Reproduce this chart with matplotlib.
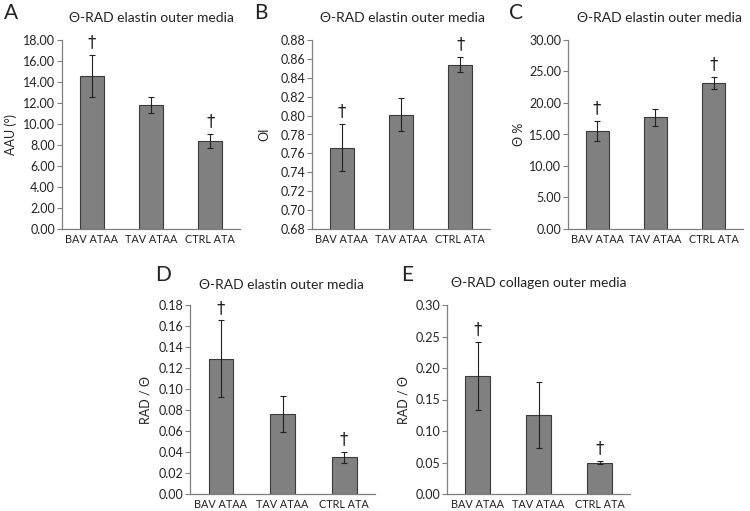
import matplotlib
matplotlib.use("Agg")
import matplotlib.pyplot as plt
import numpy as np

plt.rcParams['font.family'] = ['Lato', 'DejaVu Sans']

categories = ["BAV ATAA", "TAV ATAA", "CTRL ATA"]

a_vals = [14.6, 11.8, 8.4]
a_err = [2.0, 0.75, 0.65]
a_sig = [True, False, True]

b_vals = [0.766, 0.801, 0.854]
b_err = [0.025, 0.0175, 0.008]
b_sig = [True, False, True]

c_vals = [15.6, 17.7, 23.2]
c_err = [1.6, 1.3, 1.0]
c_sig = [True, False, True]

d_vals = [0.129, 0.076, 0.035]
d_err = [0.0365, 0.017, 0.005]
d_sig = [True, False, True]

e_vals = [0.188, 0.126, 0.050]
e_err = [0.054, 0.0525, 0.0025]
e_sig = [True, False, True]

W, H = 750, 511
fig = plt.figure(figsize=(W / 100, H / 100), dpi=100)

def rect(l, r, t, b):
    return [l / W, 1 - b / H, (r - l) / W, (b - t) / H]

panels = [
    dict(r=rect(62, 240, 40, 229), vals=a_vals, err=a_err, sig=a_sig, ylim=(0, 18), step=2, fmt="{:.2f}",
         ylabel="AAU (°)", title="Θ-RAD elastin outer media", letter="A", lx=4, ly=3, tx=151, ty=18, ylx=11),
    dict(r=rect(312, 490, 40, 229), vals=b_vals, err=b_err, sig=b_sig, ylim=(0.68, 0.88), step=0.02, fmt="{:.2f}",
         ylabel="OI", title="Θ-RAD elastin outer media", letter="B", lx=254, ly=3, tx=402, ty=18, ylx=264),
    dict(r=rect(568, 743, 40, 229), vals=c_vals, err=c_err, sig=c_sig, ylim=(0, 30), step=5, fmt="{:.2f}",
         ylabel="Θ %", title="Θ-RAD elastin outer media", letter="C", lx=509, ly=3, tx=659, ty=18, ylx=519),
    dict(r=rect(190, 375, 305, 494), vals=d_vals, err=d_err, sig=d_sig, ylim=(0, 0.18), step=0.02, fmt="{:.2f}",
         ylabel="RAD / Θ", title="Θ-RAD elastin outer media", letter="D", lx=155, ly=265, tx=281, ty=285, ylx=145),
    dict(r=rect(447, 630, 305, 494), vals=e_vals, err=e_err, sig=e_sig, ylim=(0, 0.30), step=0.05, fmt="{:.2f}",
         ylabel="RAD / Θ", title="Θ-RAD collagen outer media", letter="E", lx=401, ly=265, tx=539, ty=283, ylx=403),
]

axis_col = "#7f7f7f"
txt_col = "#222222"
for p in panels:
    ax = fig.add_axes(p["r"])
    x = np.arange(len(categories))
    ax.bar(x, p["vals"], width=0.4, color="#808080", edgecolor="#3a3a3a", linewidth=0.8, zorder=2)
    ax.errorbar(x, p["vals"], yerr=p["err"], fmt="none", ecolor="#222222", elinewidth=0.8,
                capsize=2.5, capthick=0.8, zorder=3)
    lo, hi = p["ylim"]
    ax.set_xlim(-0.5, 2.5)
    ax.set_ylim(lo, hi)
    n = int(round((hi - lo) / p["step"]))
    ticks = [lo + i * p["step"] for i in range(n + 1)]
    ax.set_yticks(ticks)
    ax.set_yticklabels([p["fmt"].format(t) for t in ticks], fontsize=9, color=txt_col)
    ax.set_xticks(x)
    ax.set_xticklabels(categories, fontsize=7.8, color=txt_col)
    ax.tick_params(axis="x", length=0, pad=3.5)
    ax.tick_params(axis="y", length=3.5, width=0.8, color=axis_col, pad=1.5)
    for s in ["top", "right"]:
        ax.spines[s].set_visible(False)
    for s in ["left", "bottom"]:
        ax.spines[s].set_color(axis_col)
        ax.spines[s].set_linewidth(0.9)
    for xi, v, e, sg in zip(x, p["vals"], p["err"], p["sig"]):
        if sg:
            ax.annotate("†", (xi, v + e), xytext=(0, 2.5), textcoords="offset points",
                        ha="center", va="bottom", fontsize=12, color=txt_col,
                        family=["DejaVu Sans"])
    fig.text(p["tx"] / W, 1 - p["ty"] / H, p["title"], ha="center", va="center", fontsize=10, color=txt_col)
    fig.text(p["lx"] / W, 1 - p["ly"] / H, p["letter"], ha="left", va="top", fontsize=15, color=txt_col)
    fig.text(p["ylx"] / W, (p["r"][1] + p["r"][3] / 2), p["ylabel"], rotation=90, ha="center", va="center",
             fontsize=9, color=txt_col)

fig.savefig("out.png", dpi=100)
